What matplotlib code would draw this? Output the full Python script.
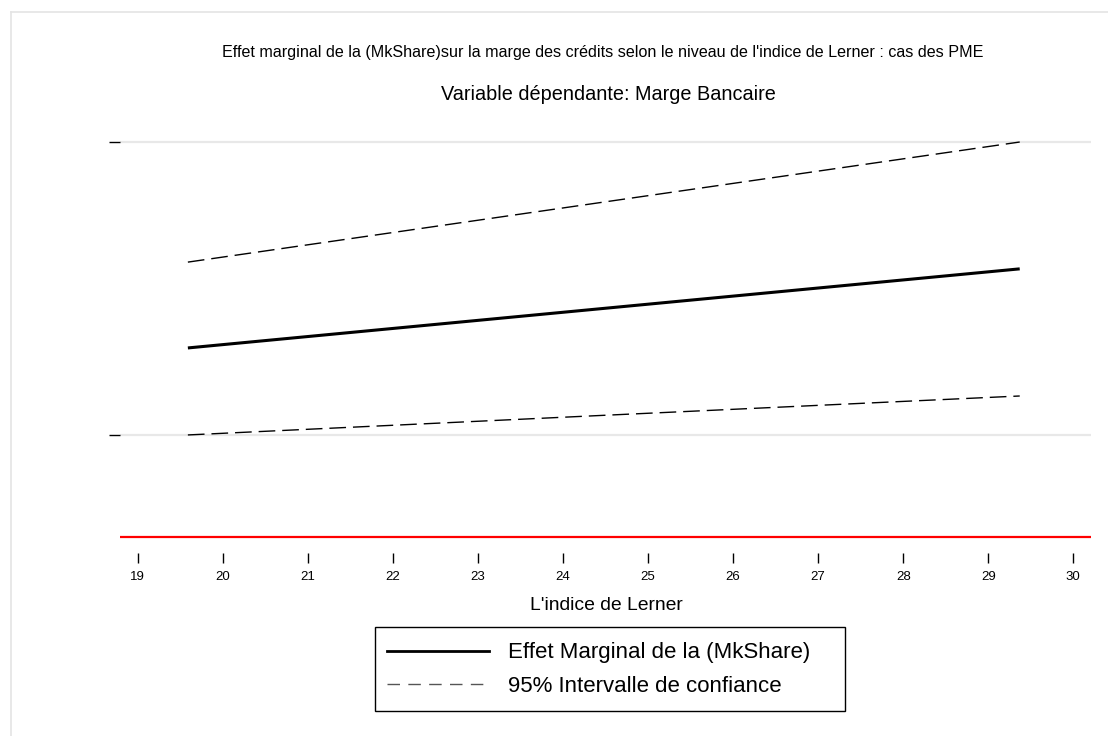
import matplotlib
matplotlib.use("Agg")
import matplotlib.pyplot as plt
from matplotlib.patches import Rectangle
from matplotlib.lines import Line2D

plt.rcParams['font.family'] = ['Liberation Sans', 'DejaVu Sans']

# Lerner index values where the marginal effect is evaluated
lerner = [19.59, 24.48, 29.37]
# Marginal effect of MkShare and its 95% confidence bounds
effet = [1.297, 1.432, 1.567]
ic_haut = [1.590, 1.795, 2.000]
ic_bas = [1.000, 1.067, 1.133]

x_ticks = list(range(19, 31))
y_ticks = [1.0, 2.0]
ref_line = 0.652

W, H = 1108, 736
fig = plt.figure(figsize=(W / 100, H / 100), dpi=100)
fig.patch.set_facecolor('white')
fig.patch.set_edgecolor('white')

# light outer frame of the graph region (left and top edges)
frame_col = '#e4e4e4'
fig.add_artist(Line2D([10.5 / W, 10.5 / W], [0, 1 - 11.5 / H], transform=fig.transFigure,
                      color=frame_col, linewidth=1.2))
fig.add_artist(Line2D([10.5 / W, 1], [1 - 11.5 / H, 1 - 11.5 / H], transform=fig.transFigure,
                      color=frame_col, linewidth=1.2))

left, right, top, bottom = 120, 1091, 130, 553
ax = fig.add_axes([left / W, 1 - bottom / H, (right - left) / W, (bottom - top) / H])
for s in ax.spines.values():
    s.set_visible(False)

ax.set_xlim(18.792, 30.208)
ax.set_ylim(0.597, 2.041)

for yv in y_ticks:
    ax.axhline(yv, color='#e8e8e8', linewidth=1.6, zorder=1)
ax.axhline(ref_line, color='#ff0000', linewidth=1.6, zorder=2)

ax.plot(lerner, effet, color='black', linewidth=2.2, solid_capstyle='butt', zorder=3)
ax.plot(lerner, ic_haut, color='black', linewidth=1.0, dashes=(12, 5), zorder=3)
ax.plot(lerner, ic_bas, color='black', linewidth=1.0, dashes=(12, 5), zorder=3)

ax.set_yticks(y_ticks)
ax.set_yticklabels([])
ax.tick_params(axis='y', direction='out', length=8, width=1.0, color='black')
ax.set_xticks(x_ticks)
ax.set_xticklabels([str(v) for v in x_ticks], fontsize=9.5)
ax.tick_params(axis='x', direction='out', length=7.5, width=1.0, pad=5.5, color='black')

fig.text(603 / W, 1 - 52 / H, "Effet marginal de la (MkShare)sur la marge des crédits selon le niveau de l'indice de Lerner : cas des PME",
         ha='center', va='center', fontsize=11.6)
fig.text(608 / W, 1 - 95 / H, "Variable dépendante: Marge Bancaire",
         ha='center', va='center', fontsize=14.3)
fig.text(606 / W, 1 - 605 / H, "L'indice de Lerner",
         ha='center', va='center', fontsize=13.9)

# legend box
fig.add_artist(Rectangle((375 / W, 1 - 711 / H), (845 - 375) / W, (711 - 627) / H,
                         transform=fig.transFigure, fill=False,
                         edgecolor='black', linewidth=1.0))
handles = [Line2D([], [], color='black', linewidth=2.0),
           Line2D([], [], color='#555555', linewidth=1.0, dashes=(9, 6))]
labels = ["Effet Marginal de la (MkShare)", "95% Intervalle de confiance"]
leg = fig.legend(handles, labels, loc='center left',
                 bbox_to_anchor=(387 / W, 1 - 669.5 / H),
                 fontsize=16, handlelength=4.6, handletextpad=0.85,
                 labelspacing=0.55, borderpad=0, borderaxespad=0,
                 frameon=False)

fig.savefig('out.png', dpi=100, facecolor='white')
